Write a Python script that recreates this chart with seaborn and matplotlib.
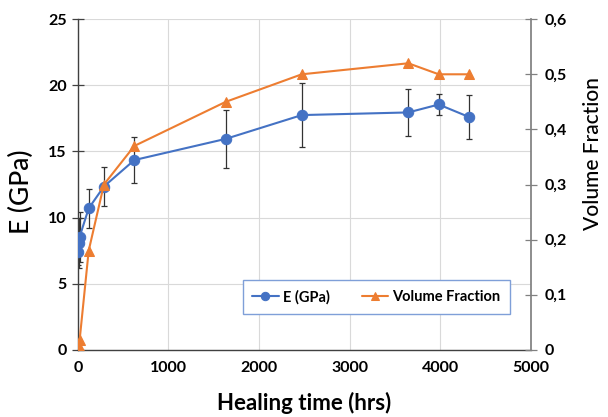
import matplotlib
matplotlib.use("Agg")
import matplotlib.pyplot as plt
import seaborn as sns
import pandas as pd

# data
hours = [0, 8, 20, 120, 288, 624, 1632, 2472, 3648, 3984, 4320]
modulus = [7.42, 8.1, 8.55, 10.7, 12.35, 14.35, 15.95, 17.75, 17.95, 18.55, 17.6]
modulus_err = [1.0, 1.9, 1.9, 1.45, 1.5, 1.75, 2.2, 2.4, 1.8, 0.8, 1.65]
vol_frac = [0.0, 0.007, 0.018, 0.18, 0.30, 0.37, 0.45, 0.50, 0.52, 0.50, 0.50]

x_ticks = [0, 1000, 2000, 3000, 4000, 5000]
left_ticks = [0, 5, 10, 15, 20, 25]
right_ticks = [0, 0.1, 0.2, 0.3, 0.4, 0.5, 0.6]
right_labels = ["0", "0,1", "0,2", "0,3", "0,4", "0,5", "0,6"]

BLUE = "#4472C4"
ORANGE = "#ED7D31"

sns.set_theme(style="whitegrid")
plt.rcParams["font.family"] = ["Lato", "DejaVu Sans"]
plt.rcParams["text.color"] = "black"
plt.rcParams["axes.labelcolor"] = "black"
plt.rcParams["xtick.color"] = "black"
plt.rcParams["ytick.color"] = "black"

df = pd.DataFrame({"hours": hours, "E": modulus, "err": modulus_err, "vf": vol_frac})

fig = plt.figure(figsize=(6.08, 4.17), dpi=100)
ax = fig.add_axes([0.128, 0.161, 0.745, 0.793])
ax2 = ax.twinx()

ax.errorbar(df["hours"], df["E"], yerr=df["err"], fmt="none", ecolor="#333333",
            elinewidth=0.9, capsize=2.5, capthick=0.9, zorder=2)
sns.lineplot(data=df, x="hours", y="E", ax=ax, color=BLUE, marker="o",
             markersize=7.5, markeredgecolor=BLUE, linewidth=1.5, label="E (GPa)", legend=False, zorder=3)
sns.lineplot(data=df, x="hours", y="vf", ax=ax2, color=ORANGE, marker="^",
             markersize=7.5, markeredgecolor=ORANGE, linewidth=1.5, label="Volume Fraction", legend=False)

ax.set_xlim(0, 5000)
ax.set_ylim(0, 25)
ax2.set_ylim(0, 0.6)
ax.set_xticks(x_ticks)
ax.set_yticks(left_ticks)
ax2.set_yticks(right_ticks)
ax2.set_yticklabels(right_labels)
ax2.grid(False)
ax.grid(True, color="#D9D9D9", linewidth=0.8)

for a in (ax, ax2):
    for s in a.spines.values():
        s.set_visible(False)
ax.spines["left"].set_visible(True)
ax.spines["bottom"].set_visible(True)
ax.spines["left"].set_color("#404040")
ax.spines["bottom"].set_color("#404040")
ax2.spines["right"].set_visible(True)
ax2.spines["right"].set_color("#808080")
ax.spines["left"].set_linewidth(1.0)
ax.spines["bottom"].set_linewidth(1.0)

ax.tick_params(axis="both", direction="inout", length=8, width=0.9, color="#404040",
               labelsize=11.5, pad=4)
ax2.tick_params(axis="y", direction="inout", length=8, width=0.9, color="#808080",
                labelsize=11.5, pad=6)
for lbl in ax.get_xticklabels() + ax.get_yticklabels() + ax2.get_yticklabels():
    lbl.set_fontweight("bold")

ax.set_xlabel("Healing time (hrs)", fontsize=16, fontweight="bold")
ax.set_ylabel("E (GPa)", fontsize=19, fontweight="medium")
ax2.set_ylabel("Volume Fraction", fontsize=15, fontweight="medium")
ax.xaxis.set_label_coords(0.5, -0.16)
ax.yaxis.set_label_coords(-0.124, 0.477)
ax2.yaxis.set_label_coords(1.137, 0.595)
ax.xaxis.label.set_verticalalignment("center")
ax.yaxis.label.set_verticalalignment("center")
ax2.yaxis.label.set_verticalalignment("center")

h1, l1 = ax.get_legend_handles_labels()
h2, l2 = ax2.get_legend_handles_labels()
leg = ax2.legend(h1 + h2, l1 + l2, ncol=2, loc="center",
                 bbox_to_anchor=((239 + 514) / 2 / 608, 1 - 297 / 417),
                 bbox_transform=fig.transFigure, fancybox=False,
                 edgecolor="#7F9FD8", framealpha=1,
                 prop={"weight": "bold", "size": 10.5}, handlelength=1.8,
                 handletextpad=0.3, borderpad=0.65, borderaxespad=0,
                 columnspacing=2.2)
leg.get_frame().set_linewidth(1.0)
for h in leg.legend_handles:
    h.set_markersize(6)

fig.savefig("out.png", dpi=100)
